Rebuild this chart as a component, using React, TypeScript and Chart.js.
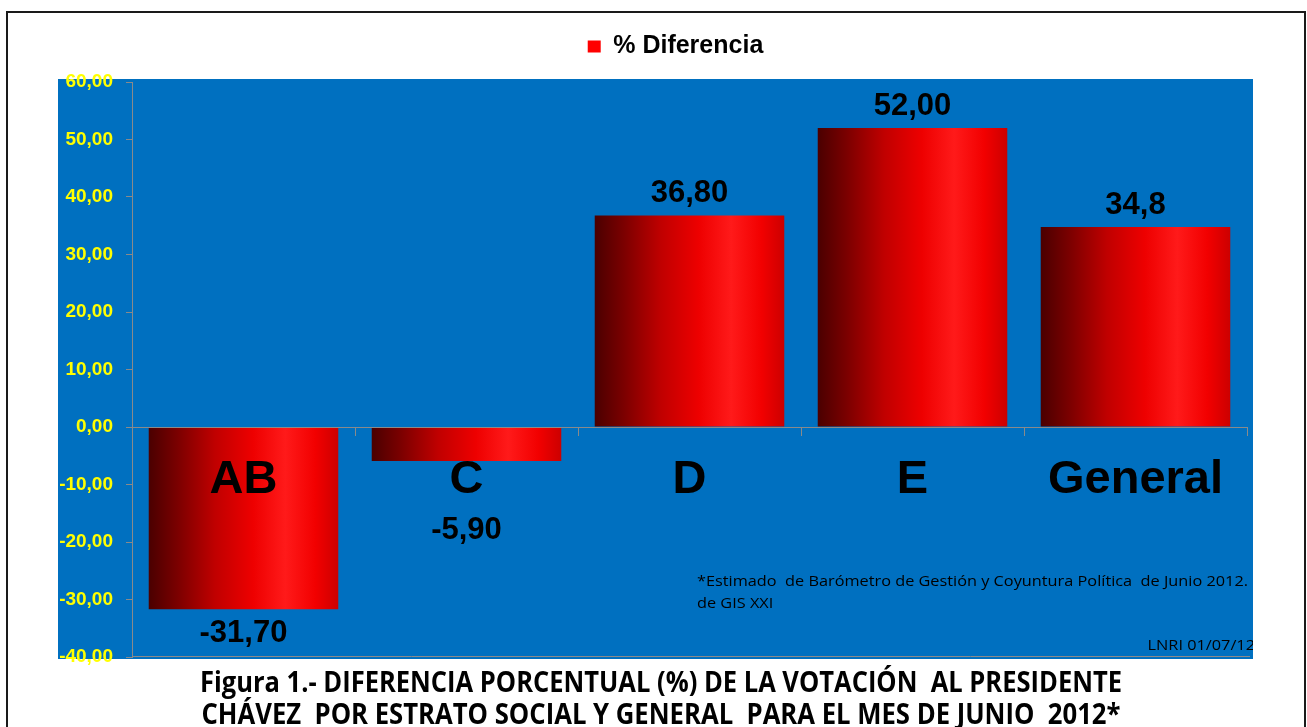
import React, { useEffect, useRef } from "react";
import { Chart, registerables } from "chart.js";

Chart.register(...registerables);

const categories = ["AB", "C", "D", "E", "General"];
const seriesName = "% Diferencia";
const diferencia = [-31.7, -5.9, 36.8, 52.0, 34.8];
const valueLabels = ["-31,70", "-5,90", "36,80", "52,00", "34,8"];
const yMin = -40;
const yMax = 60;
const yStep = 10;
const footnoteLine1 = "*Estimado  de Barómetro de Gestión y Coyuntura Política  de Junio 2012. Encuesta";
const footnoteLine2 = "de GIS XXI";
const signature = "LNRI 01/07/12";
const captionLine1 = "Figura 1.- DIFERENCIA PORCENTUAL (%) DE LA VOTACIÓN  AL PRESIDENTE";
const captionLine2 = "CHÁVEZ  POR ESTRATO SOCIAL Y GENERAL  PARA EL MES DE JUNIO  2012*";

const BLUE = "#0070C0";
const AXIS_GRAY = "#8a8a8a";

function barGradient(ctx: any) {
  const chart = ctx.chart;
  if (ctx.type !== "data" || !chart.chartArea) return "#ff0000";
  const xs = chart.scales.x;
  const cx = xs.getPixelForValue(ctx.dataIndex);
  const half = (xs.width / categories.length) * 0.85 / 2;
  if (!isFinite(cx)) return "#ff0000";
  const g = chart.ctx.createLinearGradient(cx - half, 0, cx + half, 0);
  g.addColorStop(0, "#4a0000");
  g.addColorStop(0.15, "#7a0000");
  g.addColorStop(0.35, "#c00000");
  g.addColorStop(0.55, "#ee0000");
  g.addColorStop(0.72, "#ff1a1a");
  g.addColorStop(0.88, "#f20000");
  g.addColorStop(1, "#cc0000");
  return g;
}

const decorPlugin = {
  id: "decor",
  afterLayout(chart: any) {
    const lg = chart.legend;
    if (lg) {
      lg.left += 23;
      lg.right += 23;
      lg.top -= 13;
      lg.bottom -= 13;
    }
  },
  beforeDraw(chart: any) {
    const { ctx, chartArea: a, width, height } = chart;
    ctx.save();
    ctx.fillStyle = "#ffffff";
    ctx.fillRect(0, 0, width, height);
    ctx.strokeStyle = "#1a1a1a";
    ctx.lineWidth = 2;
    ctx.strokeRect(7, 12, width - 9, height + 20);
    ctx.fillStyle = BLUE;
    ctx.fillRect(a.left - 74, a.top - 3, a.right - a.left + 80, a.bottom - a.top + 5);
    ctx.strokeStyle = AXIS_GRAY;
    ctx.lineWidth = 1;
    ctx.beginPath();
    ctx.moveTo(a.left, a.bottom - 0.5);
    ctx.lineTo(a.right + 3, a.bottom - 0.5);
    ctx.stroke();
    ctx.restore();
  },
  afterDraw(chart: any) {
    const { ctx, chartArea: a } = chart;
    const meta = chart.getDatasetMeta(0);
    const zero = chart.scales.y.getPixelForValue(0);
    ctx.save();
    ctx.fillStyle = "#000000";
    ctx.font = "bold 31px Arial, 'Liberation Sans', sans-serif";
    ctx.textAlign = "center";
    ctx.textBaseline = "alphabetic";
    meta.data.forEach((el: any, i: number) => {
      const v = diferencia[i];
      let y;
      if (v >= 0) y = el.y - 13;
      else y = Math.max(el.y + 33, zero + 112);
      ctx.fillText(valueLabels[i], el.x, y);
    });
    ctx.restore();

    // footnote inside the plot background (clipped at its right edge)
    ctx.save();
    ctx.beginPath();
    ctx.rect(a.left - 74, a.top - 3, a.right - a.left + 80, a.bottom - a.top + 5);
    ctx.clip();
    ctx.fillStyle = "#000000";
    ctx.font = "15px 'Open Sans', 'DejaVu Sans', sans-serif";
    ctx.textAlign = "left";
    const ref = "*Estimado  de Barómetro de Gestión y Coyuntura Política  de Junio 2012.";
    const sx = 551 / ctx.measureText(ref).width;
    ctx.save();
    ctx.translate(697, 0);
    ctx.scale(sx, 1);
    ctx.fillText(footnoteLine1, 0, 582);
    ctx.fillText(footnoteLine2, 0, 604);
    ctx.restore();
    ctx.save();
    ctx.translate(a.right + 8, 0);
    ctx.scale(sx, 1);
    ctx.textAlign = "right";
    ctx.fillText(signature, 0, 646);
    ctx.restore();
    ctx.restore();

    // caption below
    ctx.save();
    ctx.fillStyle = "#000000";
    ctx.font = "bold 29px 'Liberation Sans Narrow', 'Open Sans', sans-serif";
    ctx.textAlign = "center";
    const drawFit = (t: string, targetW: number, cx: number, y: number) => {
      const w = ctx.measureText(t).width;
      ctx.save();
      ctx.translate(cx, y);
      ctx.scale(targetW / w, 1);
      ctx.fillText(t, 0, 0);
      ctx.restore();
    };
    drawFit(captionLine1, 922, 661, 684);
    drawFit(captionLine2, 919, 661, 716);
    ctx.restore();
  },
};

export default function App() {
  const ref = useRef<HTMLCanvasElement | null>(null);
  useEffect(() => {
    if (!ref.current) return;
    const chart = new Chart(ref.current, {
      type: "bar",
      data: {
        labels: categories,
        datasets: [
          {
            label: seriesName,
            data: diferencia,
            backgroundColor: barGradient as any,
            borderWidth: 0,
            categoryPercentage: 1,
            barPercentage: 0.85,
          },
        ],
      },
      options: {
        animation: false,
        responsive: false,
        devicePixelRatio: 1,
        layout: { padding: { left: 58, right: 60, top: 22, bottom: 70 } },
        plugins: {
          tooltip: { enabled: false },
          legend: {
            display: true,
            position: "top",
            labels: {
              boxWidth: 13,
              boxHeight: 12,
              padding: 25,
              color: "#000000",
              font: { family: "Arial, 'Liberation Sans', sans-serif", size: 25, weight: "bold" },
              generateLabels: () => [
                {
                  text: seriesName,
                  fillStyle: "#ff0000",
                  strokeStyle: "#ff0000",
                  lineWidth: 0,
                  hidden: false,
                  datasetIndex: 0,
                },
              ],
            },
          },
        },
        scales: {
          x: {
            type: "category",
            position: { y: 0 } as any,
            offset: true,
            grid: {
              offset: true,
              drawOnChartArea: false,
              drawTicks: true,
              tickLength: 8,
              color: AXIS_GRAY,
              z: 1,
            },
            border: { display: true, color: AXIS_GRAY, width: 1, z: 1 } as any,
            ticks: {
              z: 1,
              color: "#000000",
              padding: 17,
              maxRotation: 0,
              autoSkip: false,
              font: { family: "Arial, 'Liberation Sans', sans-serif", size: 47, weight: "bold" },
            },
          },
          y: {
            min: yMin,
            max: yMax,
            afterFit: (s: any) => {
              s.width = 74;
            },
            grid: {
              drawOnChartArea: false,
              drawTicks: true,
              tickLength: 6,
              color: AXIS_GRAY,
            },
            border: { display: true, color: AXIS_GRAY, width: 1 },
            ticks: {
              stepSize: yStep,
              padding: 13,
              color: "#ffff00",
              font: { family: "Arial, 'Liberation Sans', sans-serif", size: 19, weight: "bold" },
              callback: (v: any) => Number(v).toFixed(2).replace(".", ","),
            },
          },
        },
      },
      plugins: [decorPlugin],
    });
    return () => chart.destroy();
  }, []);
  return (
    <div style={{ position: "fixed", left: 0, top: 0, width: 1307, height: 727, background: "#fff" }}>
      <canvas ref={ref} width={1307} height={727} style={{ display: "block", width: 1307, height: 727 }} />
    </div>
  );
}
